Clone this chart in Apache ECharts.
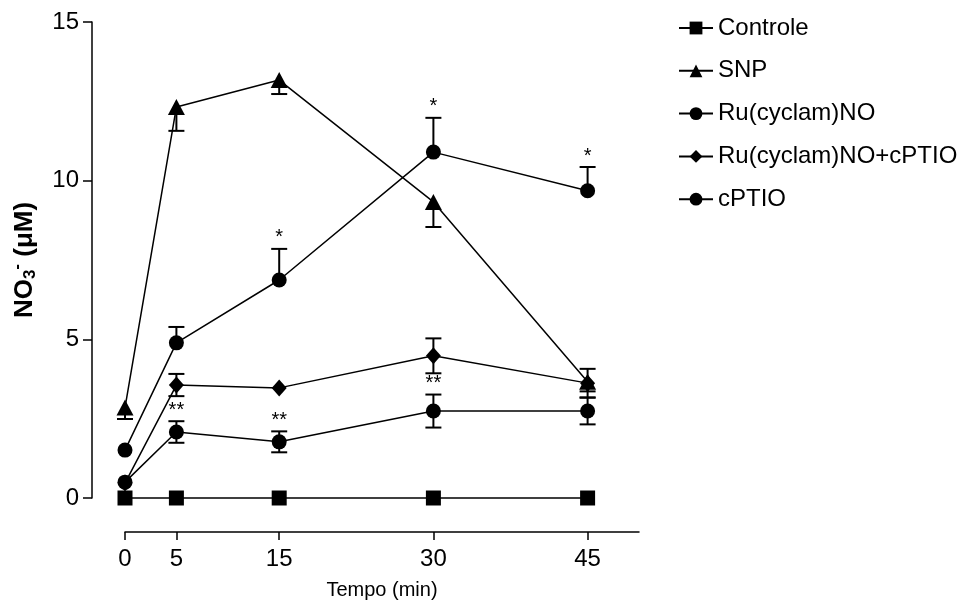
<!DOCTYPE html>
<html><head><meta charset="utf-8">
<script src="https://cdn.jsdelivr.net/npm/echarts@6/dist/echarts.min.js"></script>
<style>html,body{margin:0;padding:0;background:#fff}#c{width:977px;height:600px}</style>
</head><body><div id="c"></div>
<script>
const times = [0, 5, 15, 30, 45];
const xTicks = [0, 5, 15, 30, 45];
const seriesNames = ['Controle', 'SNP', 'Ru(cyclam)NO', 'Ru(cyclam)NO+cPTIO', 'cPTIO'];
const controle = [0, 0, 0, 0, 0];
const snp = [2.85, 12.32, 13.17, 9.33, 3.66];
const ru = [1.51, 4.89, 6.87, 10.9, 9.68];
const ruCptio = [0.47, 3.56, 3.47, 4.48, 3.62];
const cptio = [0.5, 2.08, 1.77, 2.74, 2.74];
const snpErr = [0.36, 0.75, 0.44, 0.79, 0.3];
const ruErr = [0, 0.5, 0.98, 1.08, 0.75];
const ruCptioErr = [0, 0.35, 0, 0.55, 0.45];
const cptioErr = [0, 0.34, 0.33, 0.52, 0.42];
const ruMarks = ['', '', '*', '*', '*'];
const cptioMarks = ['', '**', '**', '**', ''];

const FONT = 'Liberation Sans, Arial, sans-serif';

function pts(arr) { return times.map((t, i) => [t, arr[i]]); }
function errPts(arr, err) { return times.map((t, i) => [t, arr[i], err[i]]); }

function errRender(dir, marks) {
  return function (params, api) {
    const x = api.value(0), y = api.value(1), e = api.value(2);
    const c = api.coord([x, y]);
    const top = dir === 'down' ? c : api.coord([x, y + e]);
    const bot = dir === 'up' ? c : api.coord([x, y - e]);
    const hw = 8;
    const st = { stroke: '#000', lineWidth: 2 };
    const children = [];
    if (e > 0) {
      children.push({ type: 'line', shape: { x1: c[0], y1: top[1], x2: c[0], y2: bot[1] }, style: st });
      if (dir !== 'down') children.push({ type: 'line', shape: { x1: c[0] - hw, y1: top[1], x2: c[0] + hw, y2: top[1] }, style: st });
      if (dir !== 'up') children.push({ type: 'line', shape: { x1: c[0] - hw, y1: bot[1], x2: c[0] + hw, y2: bot[1] }, style: st });
    }
    const m = marks ? marks[params.dataIndex] : '';
    if (m) {
      children.push({ type: 'text', style: { text: m, x: c[0], y: top[1] - 1, align: 'center', verticalAlign: 'bottom', font: '20px ' + FONT, fill: '#000' } });
    }
    return { type: 'group', children: children };
  };
}

function errSeries(arr, err, dir, marks) {
  return { type: 'custom', z: 1, silent: true, clip: false, renderItem: errRender(dir, marks), data: errPts(arr, err) };
}

function lineSeries(name, arr, symbol, size) {
  return {
    type: 'line', name: name, data: pts(arr), symbol: symbol, symbolSize: size, clip: false, z: 3,
    itemStyle: { color: '#000' }, lineStyle: { color: '#000', width: 1.5 }
  };
}

const chart = echarts.init(document.getElementById('c'), null, { renderer: 'canvas' });
chart.setOption({
  animation: false,
  backgroundColor: '#fff',
  grid: { left: 125, right: 338, top: 22, bottom: 102, containLabel: false, outerBoundsMode: 'none' },
  legend: {
    orient: 'vertical', left: 673, top: 11, itemWidth: 34, itemHeight: 16, itemGap: 18.8,
    textStyle: { fontSize: 24, color: '#000', fontFamily: FONT },
    data: seriesNames
  },
  xAxis: {
    type: 'value', min: 0, max: 50, offset: 34,
    axisLine: { onZero: false, lineStyle: { color: '#000', width: 1.5 } },
    axisTick: { customValues: xTicks, length: 8, lineStyle: { color: '#000', width: 1.5 } },
    axisLabel: { customValues: xTicks, fontSize: 24, color: '#000', margin: 15, fontFamily: FONT },
    splitLine: { show: false },
    name: 'Tempo (min)', nameLocation: 'middle', nameGap: 48,
    nameTextStyle: { fontSize: 20, color: '#000', fontFamily: FONT }
  },
  yAxis: {
    type: 'value', min: 0, max: 15, interval: 5, offset: 33,
    axisLine: { show: true, onZero: false, lineStyle: { color: '#000', width: 1.5 } },
    axisTick: { show: true, length: 9, lineStyle: { color: '#000', width: 1.5 } },
    axisLabel: { fontSize: 24, color: '#000', margin: 13, fontFamily: FONT },
    splitLine: { show: false },
    name: '{b|NO}{s|3}{p|-}{b| (μM)}', nameLocation: 'middle', nameRotate: 90, nameGap: 52,
    nameTextStyle: {
      color: '#000',
      rich: {
        b: { fontSize: 26, fontWeight: 'bold', fontFamily: FONT, color: '#000' },
        s: { fontSize: 17, fontWeight: 'bold', fontFamily: FONT, color: '#000', padding: [12, 0, 0, 0] },
        p: { fontSize: 17, fontWeight: 'bold', fontFamily: FONT, color: '#000', padding: [0, 0, 14, 0] }
      }
    }
  },
  series: [
    errSeries(snp, snpErr, 'down', null),
    errSeries(ru, ruErr, 'up', ruMarks),
    errSeries(ruCptio, ruCptioErr, 'both', null),
    errSeries(cptio, cptioErr, 'both', cptioMarks),
    lineSeries('Controle', controle, 'rect', 15),
    lineSeries('SNP', snp, 'triangle', [17, 16]),
    lineSeries('Ru(cyclam)NO', ru, 'circle', 15),
    lineSeries('Ru(cyclam)NO+cPTIO', ruCptio, 'diamond', [15, 17]),
    lineSeries('cPTIO', cptio, 'circle', 15)
  ]
});
</script>
</body></html>
